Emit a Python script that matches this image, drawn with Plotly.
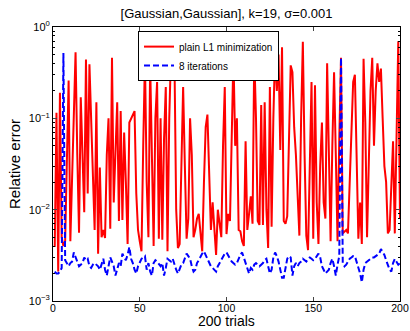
import plotly.graph_objects as go

trials = list(range(1, 201))

plain_l1 = [
    0.0039, 0.115, 0.0021, 0.19, 0.005, 0.004, 0.0045, 0.05, 0.26, 0.0045,
    0.02, 0.1, 0.53, 0.04, 0.0056, 0.17, 0.05, 0.0094, 0.44, 0.015,
    0.39, 0.1, 0.02, 0.006, 0.15, 0.0033, 0.029, 0.005, 0.006, 0.0049,
    0.04, 0.1, 0.0062, 0.46, 0.012, 0.04, 0.15, 0.0075, 0.12, 0.0077,
    0.07, 0.02, 0.0042, 0.09, 0.1, 0.11, 0.12, 0.015, 0.006, 0.0045,
    0.0035, 0.05, 0.45, 0.02, 0.005, 0.4, 0.03, 0.004, 0.1, 0.25,
    0.0048, 0.1, 0.0047, 0.06, 0.22, 0.0035, 0.1, 0.5, 0.6, 0.45,
    0.01, 0.0038, 0.0042, 0.03, 0.22, 0.03, 0.0048, 0.008, 0.1, 0.04,
    0.005, 0.006, 0.008, 0.009, 0.005, 0.0035, 0.02, 0.08, 0.11, 0.03,
    0.006, 0.012, 0.006, 0.0032, 0.01, 0.007, 0.005, 0.05, 0.22, 0.0054,
    0.009, 0.0075, 0.1, 0.5, 0.05, 0.1, 0.006, 0.0058, 0.0045, 0.004,
    0.056, 0.006, 0.009, 0.014, 0.007, 0.5, 0.1, 0.0075, 0.0068, 0.14,
    0.0068, 0.15, 0.01, 0.0038, 0.22, 0.0065, 0.1, 0.55, 0.2, 0.5,
    0.045, 0.6, 0.0075, 0.007, 0.0085, 0.05, 0.38, 0.32, 0.08, 0.04,
    0.012, 0.0052, 0.1, 0.69, 0.04, 0.0052, 0.0036, 0.03, 0.25, 0.0048,
    0.23, 0.012, 0.0042, 0.03, 0.09, 0.012, 0.008, 0.4, 0.06, 0.0045,
    0.05, 0.32, 0.04, 0.0045, 0.06, 0.46, 0.0055, 0.0058, 0.006, 0.0055,
    0.02, 0.1, 0.25, 0.3, 0.04, 0.0048, 0.012, 0.0042, 0.45, 0.09,
    0.005, 0.03, 0.2, 0.46, 0.05, 0.2, 0.4, 0.25, 0.35, 0.1,
    0.03, 0.02, 0.0055, 0.006, 0.02, 0.056, 0.0055, 0.1, 0.7, 0.008,
]

iter8 = [
    0.0021, 0.0020, 0.0020, 0.0021, 0.0023, 0.52, 0.0028, 0.0026, 0.0024, 0.0026,
    0.0027, 0.0034, 0.0030, 0.0027, 0.0024, 0.0025, 0.0026, 0.0030, 0.0028, 0.0029,
    0.0024, 0.0023, 0.0025, 0.0026, 0.0025, 0.0024, 0.0022, 0.0026, 0.0029, 0.0022,
    0.0019, 0.0024, 0.0030, 0.0027, 0.0024, 0.0019, 0.0022, 0.0026, 0.0024, 0.0033,
    0.0030, 0.0028, 0.0032, 0.0039, 0.0029, 0.0026, 0.0022, 0.0020, 0.0024, 0.0026,
    0.0029, 0.0030, 0.0031, 0.0022, 0.0026, 0.0021, 0.0019, 0.0026, 0.0028, 0.0027,
    0.0025, 0.0024, 0.0026, 0.0019, 0.0023, 0.0029, 0.0028, 0.0027, 0.0029, 0.0025,
    0.0022, 0.0020, 0.0023, 0.0025, 0.0026, 0.0029, 0.0033, 0.0031, 0.0029, 0.0024,
    0.0021, 0.0022, 0.0026, 0.0028, 0.0031, 0.0033, 0.0035, 0.0032, 0.0029, 0.0026,
    0.0024, 0.0023, 0.0022, 0.0021, 0.0024, 0.0026, 0.0029, 0.0031, 0.0033, 0.0034,
    0.0031, 0.0029, 0.0027, 0.0026, 0.0025, 0.0026, 0.0029, 0.0032, 0.0034, 0.0030,
    0.0027, 0.0024, 0.0020, 0.0023, 0.0022, 0.0025, 0.0026, 0.0025, 0.0024, 0.0025,
    0.0026, 0.0028, 0.0029, 0.0024, 0.0020, 0.0022, 0.0030, 0.0034, 0.0031, 0.0027,
    0.0022, 0.0018, 0.0018, 0.0024, 0.0029, 0.0031, 0.0030, 0.0019, 0.0024, 0.0026,
    0.0024, 0.0026, 0.0027, 0.0029, 0.0028, 0.0027, 0.0029, 0.0030, 0.0029, 0.0028,
    0.0029, 0.0031, 0.0033, 0.0030, 0.0024, 0.0022, 0.0020, 0.0021, 0.0022, 0.0026,
    0.0029, 0.0024, 0.0019, 0.0025, 0.0031, 0.46, 0.0026, 0.0024, 0.0025, 0.0027,
    0.0029, 0.0030, 0.0031, 0.0031, 0.0027, 0.0023, 0.0020, 0.0016, 0.0022, 0.0026,
    0.0027, 0.0028, 0.0029, 0.0030, 0.0030, 0.0031, 0.0032, 0.0033, 0.0037, 0.0034,
    0.0032, 0.0028, 0.0024, 0.0022, 0.0021, 0.0026, 0.0029, 0.0027, 0.0025, 0.0026,
]

x_ticks = [0, 50, 100, 150, 200]
y_ticks = [1e-3, 1e-2, 1e-1, 1e0]
y_ticktext = ["10<sup>−3</sup>", "10<sup>−2</sup>", "10<sup>−1</sup>", "10<sup>0</sup>"]
y_minor = [m * 10.0 ** e for e in (-3, -2, -1) for m in range(2, 10)]

FONT = "Liberation Sans, Arial, Helvetica, sans-serif"
B = 30
PLOT_H = 331 - 27 - B

fig = go.Figure()
fig.add_trace(go.Scatter(
    x=trials, y=plain_l1, mode="lines", name="plain L1 minimization",
    line=dict(color="#ff0000", width=2),
))
fig.add_trace(go.Scatter(
    x=trials, y=iter8, mode="lines", name="8 iterations",
    line=dict(color="#0000ff", width=2, dash="6px,3px"),
))

fig.update_layout(
    width=410, height=331,
    margin=dict(l=53, r=10, t=27, b=B),
    paper_bgcolor="white", plot_bgcolor="white",
    font=dict(family=FONT, color="black", size=11),
    title=dict(text="[Gaussian,Gaussian], k=19, σ=0.001", x=0.5525, xanchor="center",
               y=1 - 13 / 331, yref="container", yanchor="middle",
               font=dict(size=13, family=FONT)),
    showlegend=True,
    legend=dict(x=0.245, y=0.985, xanchor="left", yanchor="top",
                bgcolor="white", bordercolor="black", borderwidth=1,
                font=dict(size=10, family=FONT), tracegroupgap=0,
                itemwidth=30),
    xaxis=dict(range=[0, 200], tickvals=x_ticks, ticks="inside", ticklen=4,
               showline=True, linecolor="black", linewidth=1, mirror="ticks",
               showgrid=False, zeroline=False, automargin=False,
               ticklabelstandoff=-3,
               tickfont=dict(size=10.5)),
    yaxis=dict(type="log", range=[-3, 0], tickvals=y_ticks, ticktext=y_ticktext,
               ticks="inside", ticklen=4,
               showline=True, linecolor="black", linewidth=1, mirror="ticks",
               showgrid=False, zeroline=False, automargin=False,
               minor=dict(tickmode="array", tickvals=y_minor, ticks="inside",
                          ticklen=2, tickcolor="black"),
               title=dict(text="Relative error", font=dict(size=15), standoff=4),
               tickfont=dict(size=11)),
    annotations=[dict(text="200 trials", xref="paper", yref="paper",
                      x=0.5, y=-(B - 1) / PLOT_H, xanchor="center", yanchor="bottom",
                      showarrow=False, borderpad=0,
                      font=dict(size=14, family=FONT))],
)

fig.write_html("out.html")
